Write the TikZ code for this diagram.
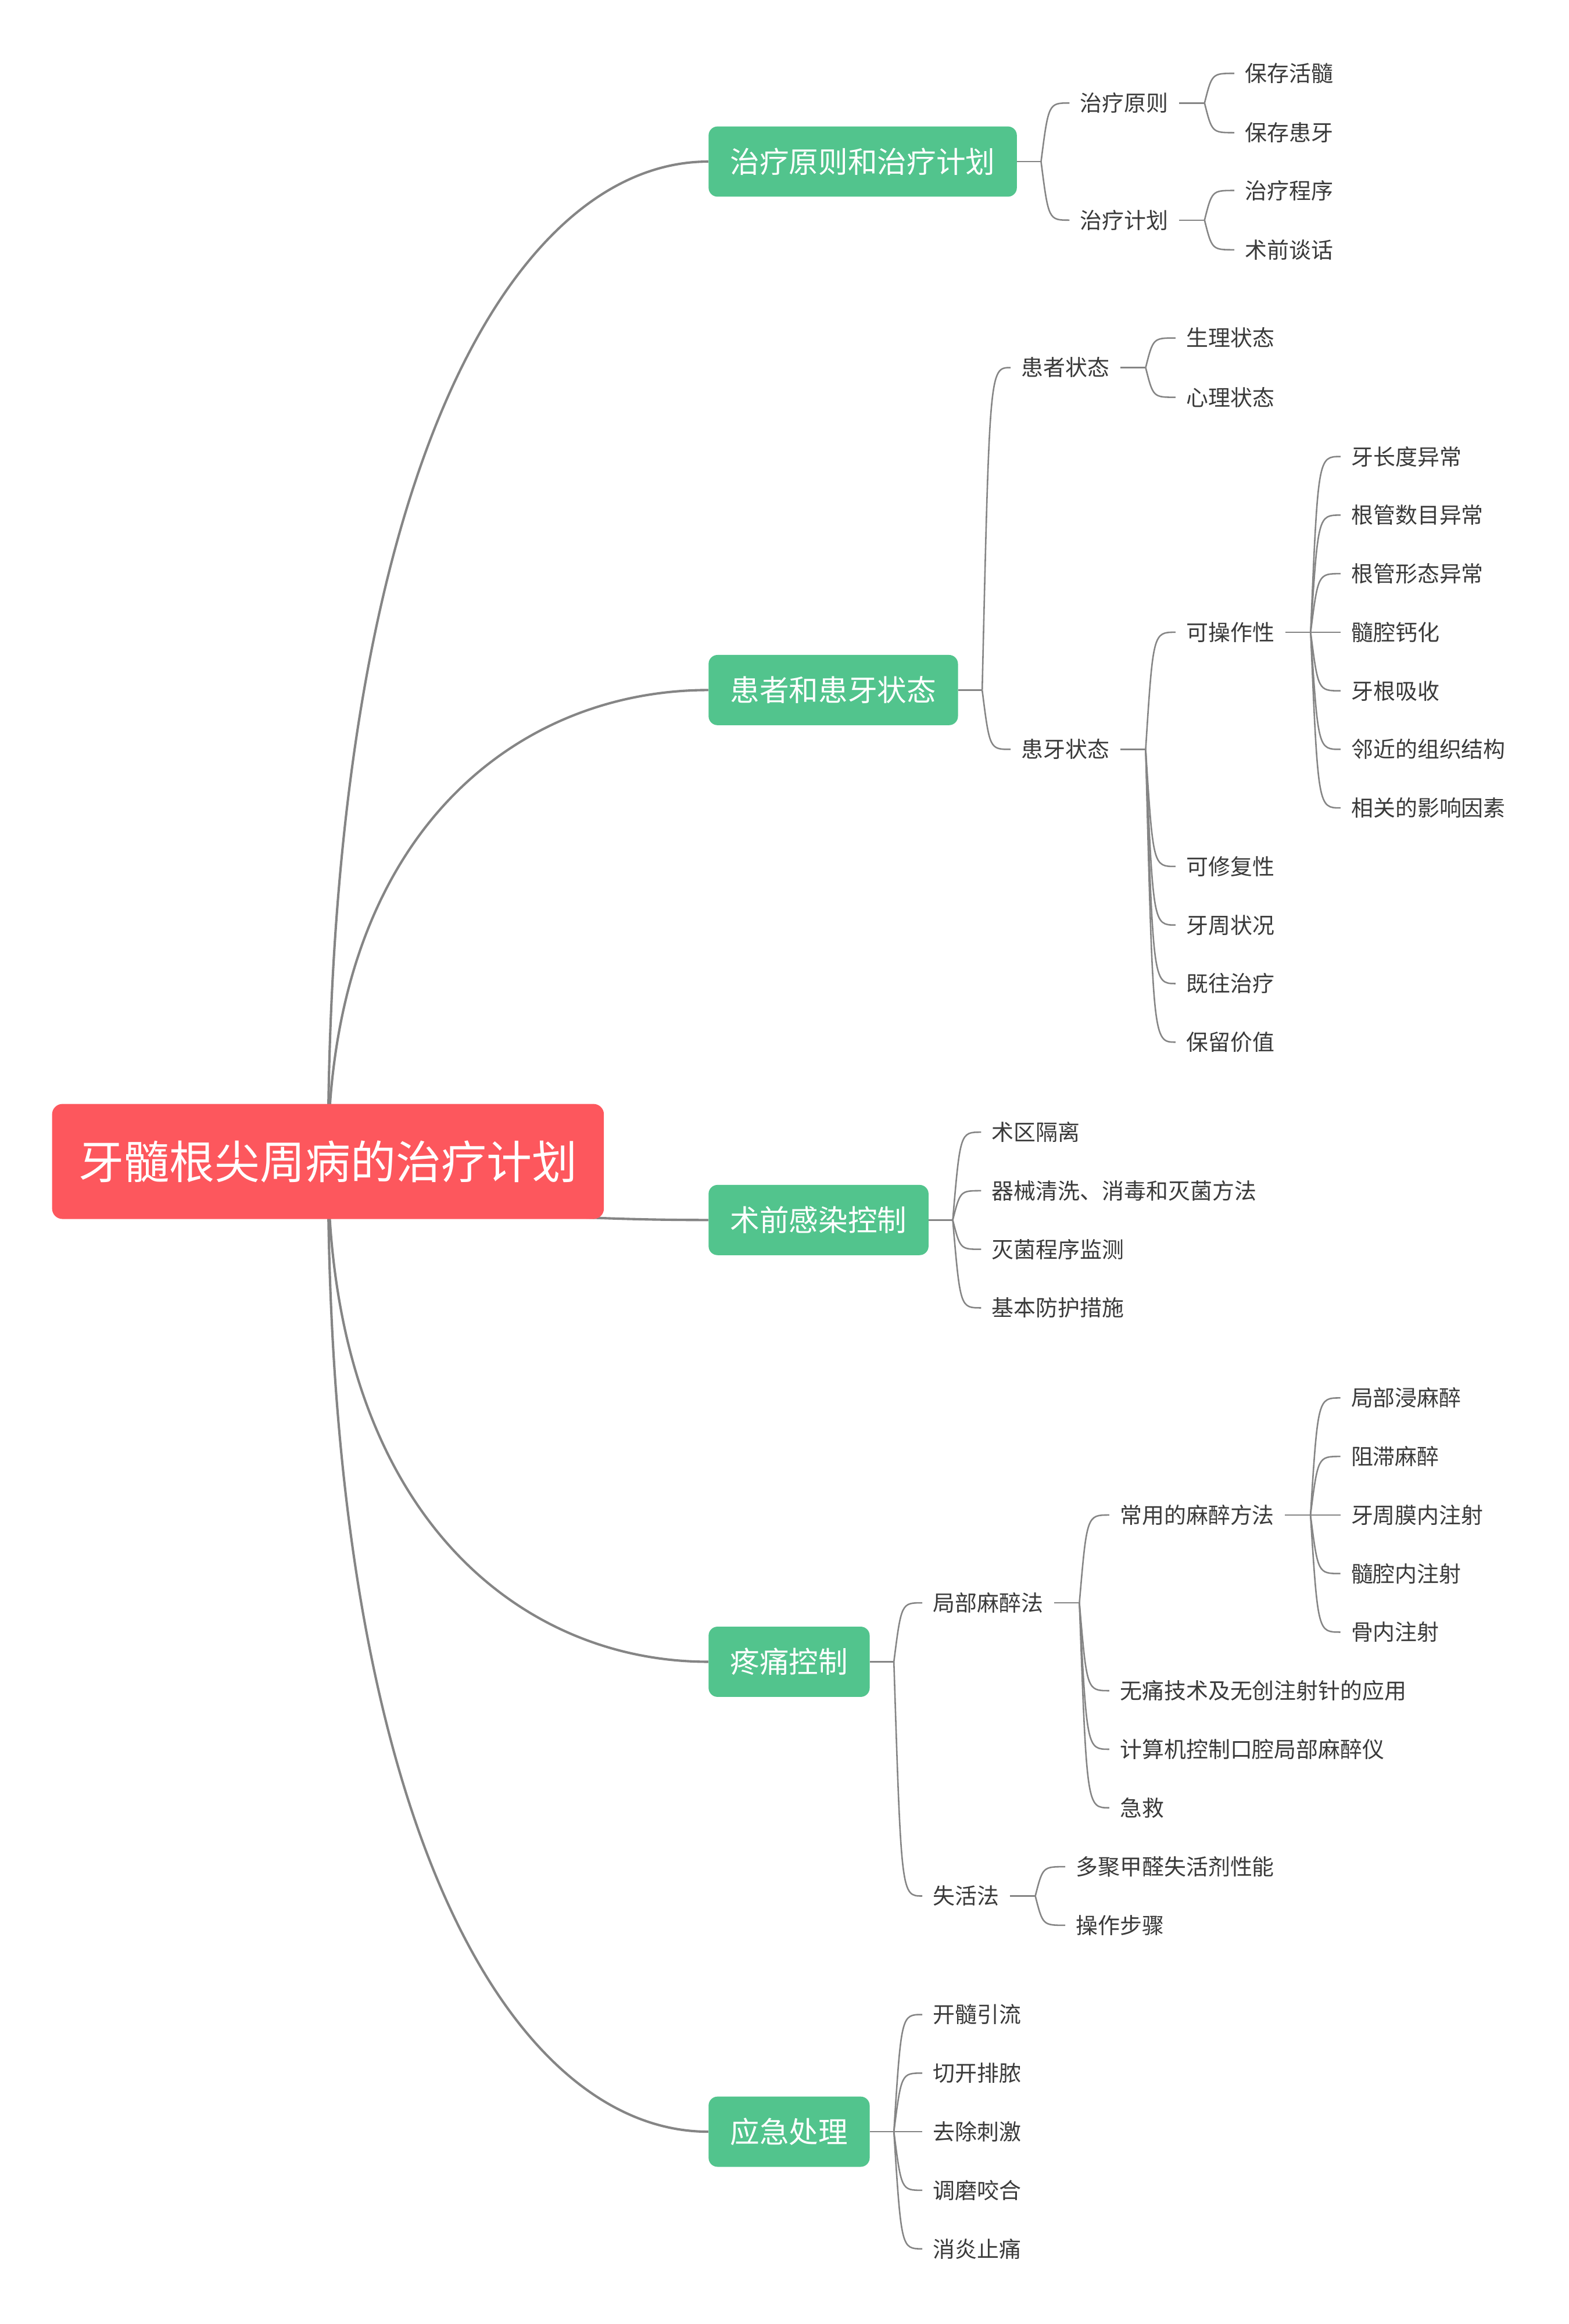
\documentclass[tikz,border=0pt]{standalone}
\usepackage{fontspec}
\newfontfamily\cjk{Noto Sans CJK SC}
\usetikzlibrary{positioning, calc, backgrounds}

\definecolor{rootred}{HTML}{FD575D}
\definecolor{topicgreen}{HTML}{52C48D}
\definecolor{linegray}{HTML}{858585}
\definecolor{textgray}{HTML}{3A3A3A}

\tikzset{
  root/.style={rectangle, rounded corners=7pt, fill=rootred, text=white,
    font={\cjk\fontsize{30.3pt}{32pt}\selectfont},
    inner xsep=18pt, inner ysep=25.8pt, text height=24.2pt, text depth=1.2pt},
  topic/.style={rectangle, rounded corners=6pt, fill=topicgreen, text=white, anchor=west,
    font={\cjk\fontsize{19.7pt}{21pt}\selectfont},
    inner xsep=14.5pt, inner ysep=15.2pt, text height=15.8pt, text depth=0.8pt},
  leaf/.style={text=textgray, anchor=west, font={\cjk\fontsize{14.75pt}{16pt}\selectfont},
    inner xsep=7pt, inner ysep=2pt, text height=11.8pt, text depth=0.6pt},
  branch/.style={draw=linegray, line width=1.6pt,
    to path={.. controls ($(\tikztostart |- \tikztotarget)!0.3!(\tikztostart)$)
      and ($(\tikztostart |- \tikztotarget)!0.5!(\tikztotarget)$) .. (\tikztotarget)}},
  twig/.style={to path={.. controls ($(\tikztostart |- \tikztotarget)+(5,0)$) .. (\tikztotarget)}},
  sub/.style={draw=linegray, line width=1pt}
}

\begin{document}
\begin{tikzpicture}[x=1pt, y=0.992pt]
\useasboundingbox (0,0) rectangle (1050,-1567.74);

% root and main topics
\node[root] (root) at (219.5,-783.5) {牙髓根尖周病的治疗计划};
\node[topic] (plan) at (474,-109) {治疗原则和治疗计划};
\node[topic] (state) at (474,-465.5) {患者和患牙状态};
\node[topic] (infect) at (474,-823) {术前感染控制};
\node[topic] (pain) at (474,-1121) {疼痛控制};
\node[topic] (emerg) at (474,-1438) {应急处理};

% 治疗原则和治疗计划
\node[leaf] (rule) at ($(plan.east)+(35,39.5)$) {治疗原则};
\node[leaf] (sched) at ($(plan.east)+(35,-39.5)$) {治疗计划};
\node[leaf] (rule1) at ($(rule.east)+(37,20)$) {保存活髓};
\node[leaf] (rule2) at ($(rule.east)+(37,-20)$) {保存患牙};
\node[leaf] (sched1) at ($(sched.east)+(37,20)$) {治疗程序};
\node[leaf] (sched2) at ($(sched.east)+(37,-20)$) {术前谈话};

% 患者和患牙状态
\node[leaf] (patient) at ($(state.east)+(35,217.5)$) {患者状态};
\node[leaf] (tooth) at ($(state.east)+(35,-40)$) {患牙状态};
\node[leaf] (patient1) at ($(patient.east)+(37,20)$) {生理状态};
\node[leaf] (patient2) at ($(patient.east)+(37,-20)$) {心理状态};
\foreach \t/\s [count=\i] in {可操作性/79, 可修复性/-79, 牙周状况/-118.5, 既往治疗/-158, 保留价值/-197.5}
  \node[leaf] (tooth\i) at ($(tooth.east)+(37,\s)$) {\t};
\foreach \t/\s [count=\i] in {牙长度异常/118.5, 根管数目异常/79, 根管形态异常/39.5, 髓腔钙化/0,
    牙根吸收/-39.5, 邻近的组织结构/-79, 相关的影响因素/-118.5}
  \node[leaf] (oper\i) at ($(tooth1.east)+(37,\s)$) {\t};

% 术前感染控制
\foreach \t/\s [count=\i] in {术区隔离/59.25, 器械清洗、消毒和灭菌方法/19.75, 灭菌程序监测/-19.75, 基本防护措施/-59.25}
  \node[leaf] (infect\i) at ($(infect.east)+(35,\s)$) {\t};

% 疼痛控制
\node[leaf] (local) at ($(pain.east)+(35,39.75)$) {局部麻醉法};
\node[leaf] (devital) at ($(pain.east)+(35,-158)$) {失活法};
\foreach \t/\s [count=\i] in {常用的麻醉方法/59.25, 无痛技术及无创注射针的应用/-59.25,
    计算机控制口腔局部麻醉仪/-98.75, 急救/-138.25}
  \node[leaf] (local\i) at ($(local.east)+(37,\s)$) {\t};
\foreach \t/\s [count=\i] in {局部浸麻醉/79, 阻滞麻醉/39.5, 牙周膜内注射/0, 髓腔内注射/-39.5, 骨内注射/-79}
  \node[leaf] (method\i) at ($(local1.east)+(37,\s)$) {\t};
\node[leaf] (devital1) at ($(devital.east)+(37,19.75)$) {多聚甲醛失活剂性能};
\node[leaf] (devital2) at ($(devital.east)+(37,-19.75)$) {操作步骤};

% 应急处理
\foreach \t/\s [count=\i] in {开髓引流/79, 切开排脓/39.5, 去除刺激/0, 调磨咬合/-39.5, 消炎止痛/-79}
  \node[leaf] (emerg\i) at ($(emerg.east)+(35,\s)$) {\t};

% junctions of the brackets
\foreach \n in {plan, state, infect, pain, emerg}
  \coordinate[right=16pt of \n.east] (j-\n);
\foreach \n in {rule, sched, patient, tooth, tooth1, local, local1, devital}
  \coordinate[right=17pt of \n.east] (j-\n);

% connectors
\begin{scope}[on background layer]
  \path (root.center) edge[branch] (plan.west) edge[branch] (state.west)
    edge[branch] (infect.west) edge[branch] (pain.west) edge[branch] (emerg.west);
  \foreach \n in {plan, rule, sched, state, patient, tooth, tooth1, infect, pain, local, local1, devital, emerg}
    \draw[sub] (\n.east) -- (j-\n);
  \path[sub]
    (j-plan) edge[twig] (rule.west) edge[twig] (sched.west)
    (j-rule) edge[twig] (rule1.west) edge[twig] (rule2.west)
    (j-sched) edge[twig] (sched1.west) edge[twig] (sched2.west)
    (j-state) edge[twig] (patient.west) edge[twig] (tooth.west)
    (j-patient) edge[twig] (patient1.west) edge[twig] (patient2.west)
    (j-pain) edge[twig] (local.west) edge[twig] (devital.west)
    (j-devital) edge[twig] (devital1.west) edge[twig] (devital2.west);
  \foreach \i in {1,...,5} \path[sub] (j-tooth) edge[twig] (tooth\i.west);
  \foreach \i in {1,...,7} \path[sub] (j-tooth1) edge[twig] (oper\i.west);
  \foreach \i in {1,...,4} \path[sub] (j-infect) edge[twig] (infect\i.west);
  \foreach \i in {1,...,4} \path[sub] (j-local) edge[twig] (local\i.west);
  \foreach \i in {1,...,5} \path[sub] (j-local1) edge[twig] (method\i.west);
  \foreach \i in {1,...,5} \path[sub] (j-emerg) edge[twig] (emerg\i.west);
\end{scope}
\end{tikzpicture}
\end{document}
